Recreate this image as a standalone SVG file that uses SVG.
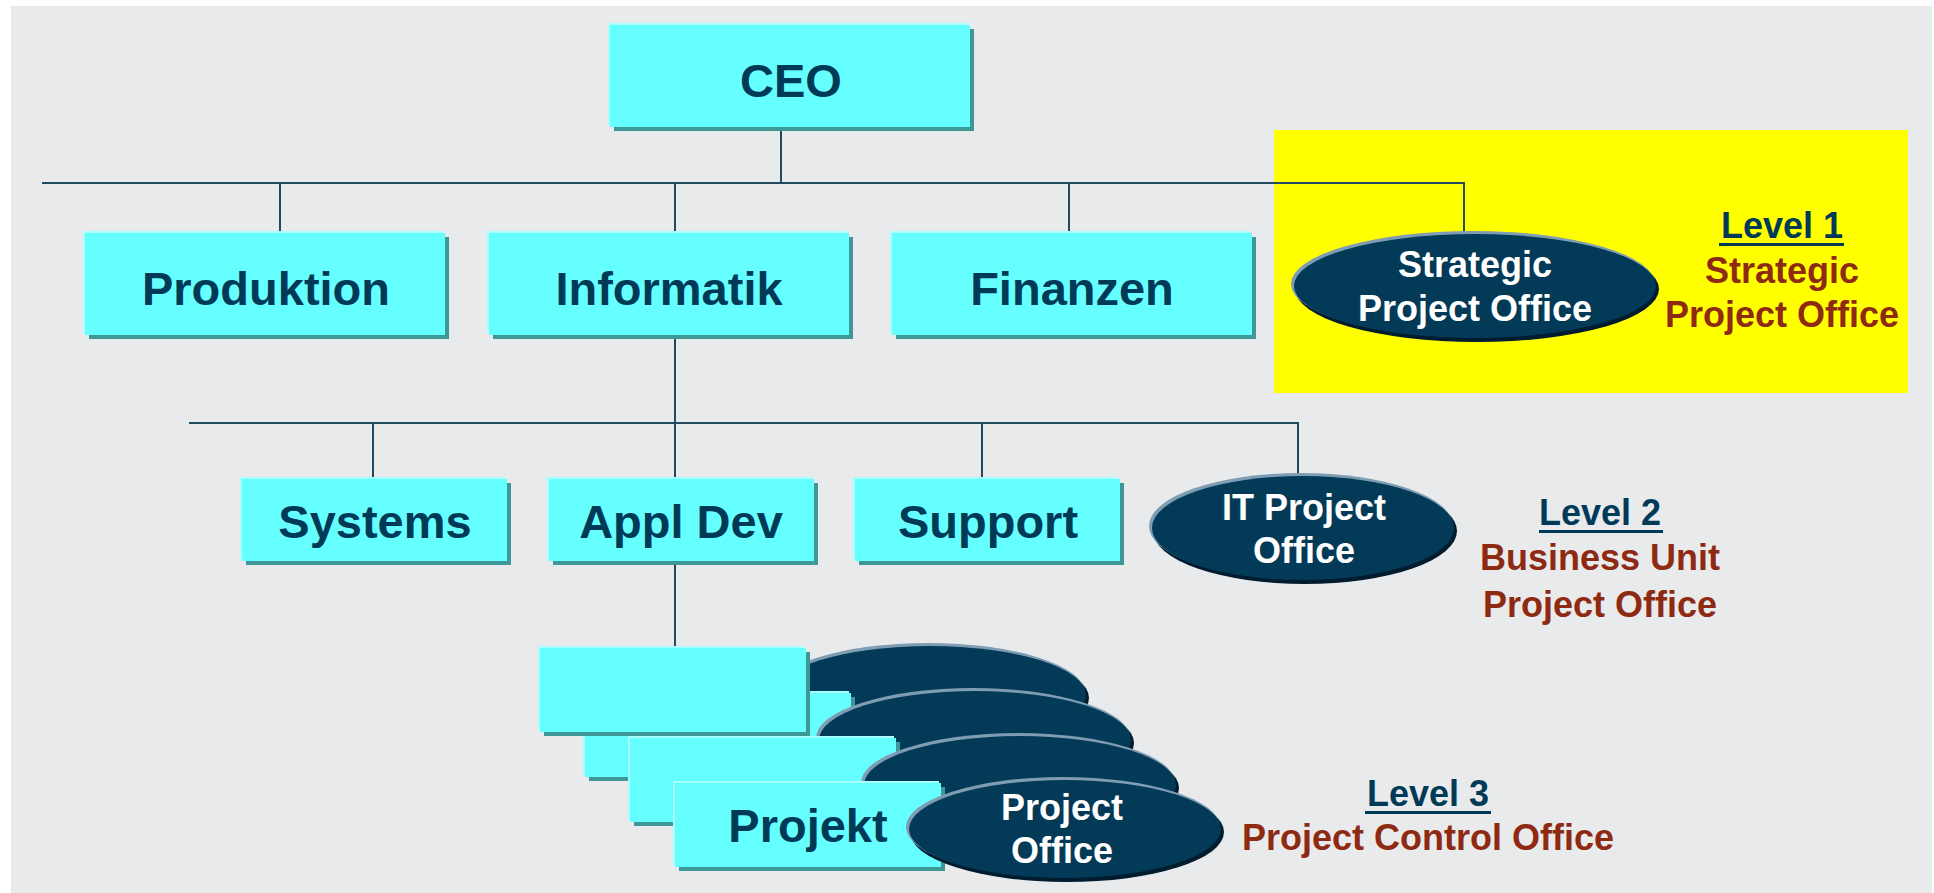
<svg xmlns="http://www.w3.org/2000/svg" width="1934" height="893" viewBox="0 0 1934 893">
<style>
.bg{fill:#E9EAEC}
.box{fill:#66FFFF}
.boxhl{fill:#A8FFFF}
.boxsh{fill:#3E9898}
.ell{fill:#023A58}
.ellhl{fill:#7F9DB2}
.ellsh{fill:#001C2E}
.t{font-family:"Liberation Sans",Arial,sans-serif;font-weight:bold;text-anchor:middle}
.tb{fill:#003A57;font-size:47px}
.tw{fill:#FFFFFF;font-size:36px}
.lv{fill:#003A57;font-size:36px}
.br{fill:#8E2A12;font-size:36px}
.ln{stroke:#234A63;stroke-width:2;fill:none}
.ul{fill:#003A57}
</style>
<rect x="0" y="0" width="1934" height="893" fill="#FFFFFF"/>
<rect class="bg" x="11" y="6" width="1921" height="887"/>
<rect x="1274" y="130" width="634" height="263" fill="#FFFF00"/>

<g id="connectors">
<path class="ln" d="M781 128V183"/>
<path class="ln" d="M42 183H1464V233"/>
<path class="ln" d="M280 183V233"/>
<path class="ln" d="M675 183V233"/>
<path class="ln" d="M1069 183V233"/>
<path class="ln" d="M675 337V423"/>
<path class="ln" d="M189 423H1298V475"/>
<path class="ln" d="M373 423V479"/>
<path class="ln" d="M675 423V479"/>
<path class="ln" d="M982 423V479"/>
<path class="ln" d="M675 562V648"/>
</g>

<g id="ceo">
<rect class="boxsh" x="614" y="29" width="360" height="102"/>
<rect class="boxhl" x="608" y="23" width="360" height="102"/>
<rect class="box" x="610" y="25" width="360" height="102"/>
<text class="t tb" x="791" y="97">CEO</text>
</g>
<g id="produktion">
<rect class="boxsh" x="89" y="237" width="360" height="102"/>
<rect class="boxhl" x="83" y="231" width="360" height="102"/>
<rect class="box" x="85" y="233" width="360" height="102"/>
<text class="t tb" x="266" y="305">Produktion</text>
</g>
<g id="informatik">
<rect class="boxsh" x="493" y="237" width="360" height="102"/>
<rect class="boxhl" x="487" y="231" width="360" height="102"/>
<rect class="box" x="489" y="233" width="360" height="102"/>
<text class="t tb" x="669" y="305">Informatik</text>
</g>
<g id="finanzen">
<rect class="boxsh" x="896" y="237" width="360" height="102"/>
<rect class="boxhl" x="890" y="231" width="360" height="102"/>
<rect class="box" x="892" y="233" width="360" height="102"/>
<text class="t tb" x="1072" y="305">Finanzen</text>
</g>
<g id="strategic-po">
<ellipse class="ellsh" cx="1477" cy="289" rx="182" ry="53"/>
<ellipse class="ellhl" cx="1473" cy="284" rx="182" ry="53"/>
<ellipse class="ell" cx="1475" cy="286" rx="181" ry="52"/>
<text class="t tw" x="1475" y="277">Strategic</text>
<text class="t tw" x="1475" y="321">Project Office</text>
</g>

<g id="systems">
<rect class="boxsh" x="246" y="483" width="265" height="82"/>
<rect class="boxhl" x="240" y="477" width="265" height="82"/>
<rect class="box" x="242" y="479" width="265" height="82"/>
<text class="t tb" x="375" y="538">Systems</text>
</g>
<g id="appldev">
<rect class="boxsh" x="553" y="483" width="265" height="82"/>
<rect class="boxhl" x="547" y="477" width="265" height="82"/>
<rect class="box" x="549" y="479" width="265" height="82"/>
<text class="t tb" x="681" y="538">Appl Dev</text>
</g>
<g id="support">
<rect class="boxsh" x="859" y="483" width="265" height="82"/>
<rect class="boxhl" x="853" y="477" width="265" height="82"/>
<rect class="box" x="855" y="479" width="265" height="82"/>
<text class="t tb" x="988" y="538">Support</text>
</g>
<g id="it-po">
<ellipse class="ellsh" cx="1305" cy="531" rx="152" ry="53"/>
<ellipse class="ellhl" cx="1301" cy="526" rx="152" ry="53"/>
<ellipse class="ell" cx="1303" cy="528" rx="151" ry="52"/>
<text class="t tw" x="1304" y="520">IT Project</text>
<text class="t tw" x="1304" y="563">Office</text>
</g>

<g id="projects">
<g id="po1">
<ellipse class="ellsh" cx="932" cy="698" rx="157" ry="50"/>
<ellipse class="ellhl" cx="928" cy="693" rx="157" ry="50"/>
<ellipse class="ell" cx="930" cy="695" rx="156" ry="49"/>
</g>
<g id="projekt2">
<rect class="boxsh" x="589" y="697" width="266" height="84"/>
<rect class="boxhl" x="583" y="691" width="266" height="84"/>
<rect class="box" x="585" y="693" width="266" height="84"/>
</g>
<g id="projekt1">
<rect class="boxsh" x="544" y="652" width="266" height="84"/>
<rect class="boxhl" x="538" y="646" width="266" height="84"/>
<rect class="box" x="540" y="648" width="266" height="84"/>
</g>
<g id="po2">
<ellipse class="ellsh" cx="977" cy="743" rx="157" ry="50"/>
<ellipse class="ellhl" cx="973" cy="738" rx="157" ry="50"/>
<ellipse class="ell" cx="975" cy="740" rx="156" ry="49"/>
</g>
<g id="projekt3">
<rect class="boxsh" x="634" y="742" width="266" height="84"/>
<rect class="boxhl" x="628" y="736" width="266" height="84"/>
<rect class="box" x="630" y="738" width="266" height="84"/>
</g>
<g id="po3">
<ellipse class="ellsh" cx="1022" cy="788" rx="157" ry="50"/>
<ellipse class="ellhl" cx="1018" cy="783" rx="157" ry="50"/>
<ellipse class="ell" cx="1020" cy="785" rx="156" ry="49"/>
</g>
<g id="projekt4">
<rect class="boxsh" x="679" y="787" width="266" height="84"/>
<rect class="boxhl" x="673" y="781" width="266" height="84"/>
<rect class="box" x="675" y="783" width="266" height="84"/>
<text class="t tb" x="808" y="842">Projekt</text>
</g>
<g id="po4">
<ellipse class="ellsh" cx="1067" cy="832" rx="157" ry="50"/>
<ellipse class="ellhl" cx="1063" cy="827" rx="157" ry="50"/>
<ellipse class="ell" cx="1065" cy="829" rx="156" ry="49"/>
<text class="t tw" x="1062" y="820">Project</text>
<text class="t tw" x="1062" y="863">Office</text>
</g>
</g>

<g id="level1">
<text class="t lv" x="1782" y="238">Level 1</text>
<rect class="ul" x="1719" y="243" width="125" height="3"/>
<text class="t br" x="1782" y="283">Strategic</text>
<text class="t br" x="1782" y="327">Project Office</text>
</g>
<g id="level2">
<text class="t lv" x="1600" y="525">Level 2</text>
<rect class="ul" x="1539" y="530" width="124" height="3"/>
<text class="t br" x="1600" y="570">Business Unit</text>
<text class="t br" x="1600" y="617">Project Office</text>
</g>
<g id="level3">
<text class="t lv" x="1428" y="806">Level 3</text>
<rect class="ul" x="1365" y="811" width="126" height="3"/>
<text class="t br" x="1428" y="850">Project Control Office</text>
</g>
</svg>
